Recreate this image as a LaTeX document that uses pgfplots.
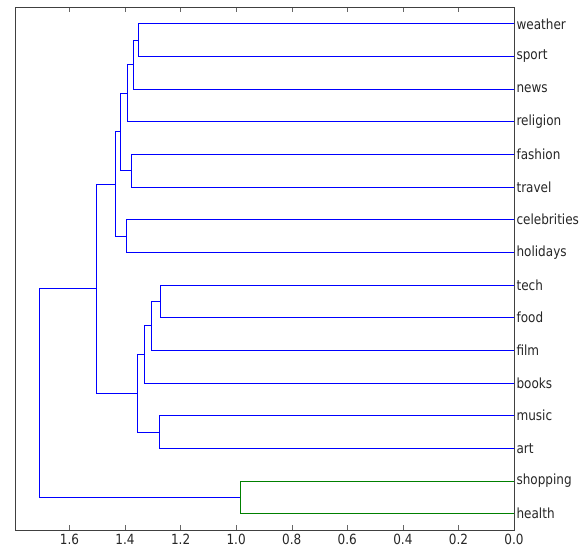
\documentclass[border=0pt]{standalone}
\usepackage{fontspec}
\setmainfont[FakeStretch=0.86]{DejaVu Sans}
\usepackage{pgfplots}
\pgfplotsset{compat=1.18}
\definecolor{mplgreen}{rgb}{0,0.5,0}
\begin{document}
\begin{tikzpicture}
\begin{axis}[
  width=499pt, height=522.5pt, scale only axis,
  x dir=reverse, xmin=0, xmax=1.796, ymin=0, ymax=160,
  axis line style={black!75},
  xtick={0,0.2,0.4,0.6,0.8,1.0,1.2,1.4,1.6},
  xticklabels={0.0,0.2,0.4,0.6,0.8,1.0,1.2,1.4,1.6},
  xtick pos=both, tick align=inside, major tick length=5pt,
  x tick style={black!60},
  ytick={5,15,25,35,45,55,65,75,85,95,105,115,125,135,145,155},
  yticklabels={health,shopping,art,music,books,film,food,tech,holidays,celebrities,travel,fashion,religion,news,sport,weather},
  yticklabel pos=right, y tick style={draw=none},
  yticklabel style={xshift=-1pt},
  xticklabel style={yshift=-1pt},
  ticklabel style={font=\fontsize{14}{16}\selectfont, text=black!85},
  /pgf/number format/assume math mode=true,
  every axis plot/.append style={line width=1pt, mark=none},
]
\addplot[blue] coordinates {(0,155) (1.353,155) (1.353,145) (0,145)};
\addplot[blue] coordinates {(1.353,150) (1.371,150) (1.371,135) (0,135)};
\addplot[blue] coordinates {(1.371,142.5) (1.390,142.5) (1.390,125) (0,125)};
\addplot[blue] coordinates {(0,115) (1.375,115) (1.375,105) (0,105)};
\addplot[blue] coordinates {(1.390,133.75) (1.418,133.75) (1.418,110) (1.375,110)};
\addplot[blue] coordinates {(0,95) (1.394,95) (1.394,85) (0,85)};
\addplot[blue] coordinates {(1.418,121.875) (1.435,121.875) (1.435,90) (1.394,90)};
\addplot[blue] coordinates {(0,75) (1.272,75) (1.272,65) (0,65)};
\addplot[blue] coordinates {(1.272,70) (1.306,70) (1.306,55) (0,55)};
\addplot[blue] coordinates {(1.306,62.5) (1.331,62.5) (1.331,45) (0,45)};
\addplot[blue] coordinates {(0,35) (1.277,35) (1.277,25) (0,25)};
\addplot[blue] coordinates {(1.331,53.75) (1.355,53.75) (1.355,30) (1.277,30)};
\addplot[blue] coordinates {(1.435,105.9375) (1.504,105.9375) (1.504,41.875) (1.355,41.875)};
\addplot[mplgreen] coordinates {(0,15) (0.986,15) (0.986,5) (0,5)};
\addplot[blue] coordinates {(1.504,73.906) (1.709,73.906) (1.709,10) (0.986,10)};
\end{axis}
\path (current axis.south west) ++(-15pt,-24pt) coordinate (bbA);
\path (current axis.north east) ++(74pt,7.5pt) coordinate (bbB);
\path (bbA) rectangle (bbB);
\end{tikzpicture}
\end{document}
